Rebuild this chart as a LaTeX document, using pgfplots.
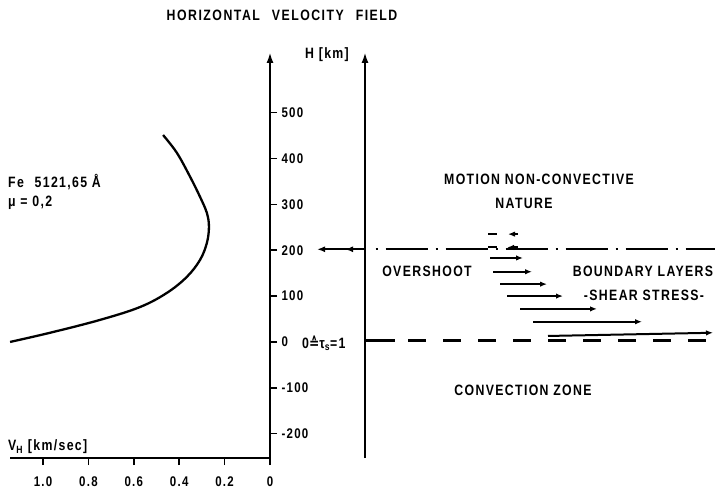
\documentclass[border=0pt]{standalone}
\usepackage{fontspec}
\setmainfont{Liberation Sans}[FakeStretch=0.82, LetterSpace=9]
\newfontfamily\dejavu{DejaVu Sans}[FakeStretch=0.82]
\usepackage{pgfplots}
\pgfplotsset{compat=1.18}
\usetikzlibrary{arrows.meta}

\pgfplotstableread{
x y
-1.145 0
-0.969 20
-0.749 48
-0.573 76
-0.454 107
-0.366 142
-0.308 179
-0.278 216
-0.269 251
-0.278 281
-0.308 316
-0.352 360
-0.410 412
-0.471 451
}\curvedata

\begin{document}
\begin{tikzpicture}[font=\bfseries\fontsize{15}{16}\selectfont]
\useasboundingbox (0,0) rectangle (715pt,488pt);
\begin{axis}[at={(10pt,30pt)}, anchor=south west, scale only axis,
  width=260pt, height=406pt,
  xmin=-1.1454, xmax=0, ymin=-253, ymax=632, clip=false,
  axis x line*=bottom, axis y line*=right,
  axis line style={line width=2.3pt},
  y axis line style={-{Latex[length=11pt,width=7pt]}},
  xtick={-1,-0.8,-0.6,-0.4,-0.2,0}, xticklabels={1.0,0.8,0.6,0.4,0.2,0},
  ytick={-200,-100,0,100,200,300,400,500},
  yticklabels={-200,-100,0,100,200,300,400,500},
  tick align=outside, major tick length=7pt,
  tick style={line width=1.6pt, black},
  ticklabel style={font=\bfseries\fontsize{14}{14}\selectfont},
  xticklabel style={yshift=-8pt},
  yticklabel style={xshift=1pt},
]
\addplot[line width=2.3pt, smooth, tension=0.6] table {\curvedata};
\end{axis}
\begin{axis}[at={(365pt,30pt)}, anchor=south west, scale only axis,
  width=350pt, height=406pt,
  xmin=0, xmax=350, ymin=-253, ymax=632, clip=false,
  axis x line=none, axis y line*=left, ytick=\empty, xtick=\empty,
  axis line style={line width=2.3pt},
  y axis line style={-{Latex[length=11pt,width=7pt]}},
]
% dash-dot line at 200
\addplot[line width=1.6pt, dash pattern=on 2pt off 8pt on 42pt off 8pt] coordinates {(10.5,202) (350,202)};
% dashed line at 0
\addplot[line width=2.2pt] coordinates {(0,3) (30,3)};
\addplot[line width=2.2pt, dash pattern=on 18pt off 17pt] coordinates {(43,3) (350,3)};
% arrow to the left of the second axis
\addplot[line width=2pt, -{Latex[length=8pt,width=6pt]}] coordinates {(0,202) (-48,202)};
\addplot[line width=2pt, -{Latex[length=8pt,width=6pt]}] coordinates {(-10,202) (-20,202)};
% small dashes and left arrows
\addplot[line width=2pt] coordinates {(123,235) (132,235)};
\addplot[line width=2pt, -{Latex[length=7pt,width=5.5pt]}] coordinates {(153,235) (143,235)};
\addplot[line width=2pt] coordinates {(123,207) (132,207)};
\addplot[line width=2pt, -{Latex[length=7pt,width=5.5pt]}] coordinates {(153,206) (142,206)};
% right arrows
\addplot[line width=2pt, -{Latex[length=7pt,width=5.5pt]}] coordinates {(125,183) (158,183)};
\addplot[line width=2pt, -{Latex[length=7pt,width=5.5pt]}] coordinates {(128,153) (167,153)};
\addplot[line width=2pt, -{Latex[length=7pt,width=5.5pt]}] coordinates {(135,126) (182,126)};
\addplot[line width=2pt, -{Latex[length=7pt,width=5.5pt]}] coordinates {(142,100) (198,100)};
\addplot[line width=2pt, -{Latex[length=7pt,width=5.5pt]}] coordinates {(155,72) (232,72)};
\addplot[line width=2pt, -{Latex[length=7pt,width=5.5pt]}] coordinates {(168,44) (277,44)};
\addplot[line width=2pt, -{Latex[length=7pt,width=5.5pt]}] coordinates {(183,13) (348,20)};
\end{axis}
% texts
\node at (282pt,473pt) {\addfontfeature{LetterSpace=10}HORIZONTAL\hspace{7pt} VELOCITY\hspace{7pt} FIELD};
\node at (327pt,433pt) {H [km]};
\node[anchor=west, inner sep=0pt] at (8pt,306pt) {Fe\hspace{6pt} 5121,65 Å};
\node[anchor=west, inner sep=0pt] at (8pt,285pt) {μ = 0,2};
\node[anchor=west, inner sep=0pt] at (8pt,41pt) {V\textsubscript{H} [km/sec]};
\node[anchor=west, inner sep=0pt] at (302pt,145pt) {\fontsize{15}{15}\selectfont 0{\dejavu ≙}τ\textsubscript{s}=1};
\node at (539pt,309pt) {MOTION NON-CONVECTIVE};
\node at (524pt,285pt) {NATURE};
\node at (427pt,217pt) {OVERSHOOT};
\node at (643pt,217pt) {BOUNDARY LAYERS};
\node at (644pt,193pt) {-SHEAR STRESS-};
\node at (523pt,98pt) {CONVECTION ZONE};
\end{tikzpicture}
\end{document}
